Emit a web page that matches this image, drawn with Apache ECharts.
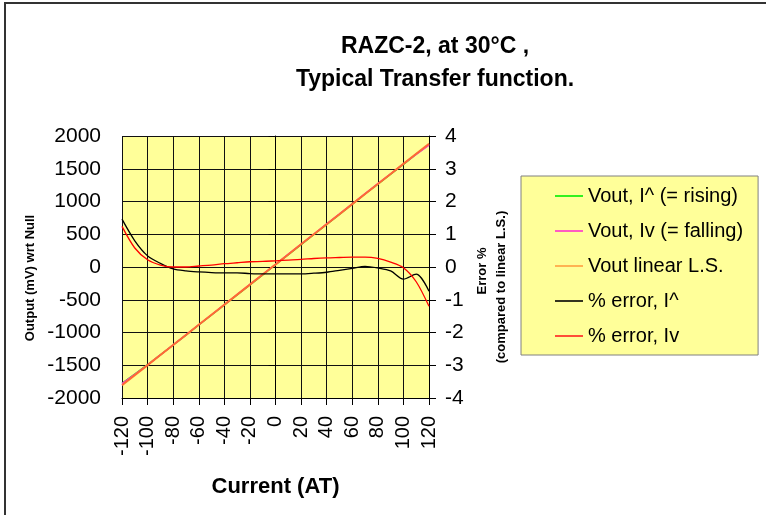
<!DOCTYPE html>
<html>
<head>
<meta charset="utf-8">
<script src="https://cdn.jsdelivr.net/npm/echarts@6/dist/echarts.min.js"></script>
<style>html,body{margin:0;padding:0;background:#fff}#c{width:766px;height:515px}</style>
</head>
<body>
<div id="c"></div>
<script>
const current = [-120,-110,-100,-90,-80,-70,-60,-50,-40,-30,-20,-10,0,10,20,30,40,50,60,70,80,90,100,110,120];
const voutRising = [-1778,-1636,-1492,-1342,-1191,-1039,-886,-733,-579,-425,-273,-119,34,188,342,496,650,804,959,1114,1266,1419,1567,1724,1867];
const voutFalling = [-1782,-1640,-1494,-1343,-1190,-1037,-882,-729,-574,-420,-266,-112,41,196,350,504,658,811,966,1120,1272,1424,1574,1720,1859];
const voutLinear = [-1805,-1651,-1498,-1344,-1190,-1037,-883,-730,-576,-422,-269,-115,38,192,346,499,653,806,960,1114,1267,1421,1574,1728,1881];
const errRising = [1.46,0.80,0.34,0.11,-0.06,-0.12,-0.15,-0.17,-0.18,-0.18,-0.20,-0.21,-0.21,-0.21,-0.21,-0.19,-0.16,-0.10,-0.04,0.02,-0.03,-0.12,-0.37,-0.22,-0.74];
const errFalling = [1.24,0.58,0.22,0.06,0.00,0.00,0.03,0.06,0.10,0.13,0.16,0.17,0.19,0.21,0.23,0.26,0.28,0.29,0.30,0.30,0.26,0.15,-0.02,-0.45,-1.20];
const seriesNames = ['Vout, I^ (= rising)','Vout, Iv (= falling)','Vout linear L.S.','% error, I^','% error, Iv'];

const F = 'Liberation Sans, Arial, sans-serif';
const pair = (ys) => current.map((x, i) => [x, ys[i]]);
const chart = echarts.init(document.getElementById('c'), null, {renderer: 'canvas'});
const legendColors = ['#00ee00', '#ff33cc', '#ffa040', '#000000', '#ff2020'];
const lineIcon = 'path://M0,0 L28,0 L28,1.6 L0,1.6 Z';
chart.setOption({
  backgroundColor: '#ffffff',
  animation: false,
  title: [
    {text: 'RAZC-2, at 30°C ,\nTypical Transfer function.', left: 430, top: 25, textAlign: 'center',
     textStyle: {fontFamily: F, fontSize: 23, fontWeight: 'bold', color: '#000', lineHeight: 33}}
  ],
  grid: {left: 122, right: 337, top: 136, bottom: 117, show: true, backgroundColor: '#ffff99', borderWidth: 0},
  legend: {
    orient: 'vertical', left: 521, top: 176, width: 240,
    backgroundColor: '#ffff99', borderColor: '#808080', borderWidth: 1,
    padding: [10, 15, 9, 34], itemGap: 15, itemWidth: 28, itemHeight: 14,
    symbolKeepAspect: true,
    textStyle: {fontFamily: F, fontSize: 20, color: '#000'},
    data: seriesNames.map((n, i) => ({name: n, icon: lineIcon, itemStyle: {color: legendColors[i], borderWidth: 0}})),
    selectedMode: false
  },
  xAxis: {
    type: 'value', min: -120, max: 120, interval: 20,
    axisLine: {onZero: false, lineStyle: {color: '#000', width: 1}},
    axisTick: {show: true, inside: false, length: 7, lineStyle: {color: '#000'}},
    axisLabel: {rotate: 90, margin: 18, fontFamily: F, fontSize: 20, color: '#000', formatter: (v) => String(v)},
    splitLine: {show: true, lineStyle: {color: '#111', width: 1}},
    name: 'Current (AT)', nameLocation: 'middle', nameGap: 78,
    nameTextStyle: {fontFamily: F, fontSize: 22, fontWeight: 'bold', color: '#000'}
  },
  yAxis: [
    {type: 'value', min: -2000, max: 2000, interval: 500,
     axisLine: {show: true, lineStyle: {color: '#000', width: 1}},
     axisTick: {show: true, length: 7, lineStyle: {color: '#000'}},
     axisLabel: {margin: 21, fontFamily: F, fontSize: 21, color: '#000', formatter: (v) => String(v)},
     splitLine: {show: true, lineStyle: {color: '#111', width: 1}}},
    {type: 'value', min: -4, max: 4, interval: 1, position: 'right',
     axisLine: {show: true, lineStyle: {color: '#000', width: 1}},
     axisTick: {show: true, length: 7, lineStyle: {color: '#000'}},
     axisLabel: {margin: 16, fontFamily: F, fontSize: 21, color: '#000', formatter: (v) => String(v)},
     splitLine: {show: false}}
  ],
  graphic: [
    {type: 'rect', shape: {x: 5, y: 3, width: 800, height: 600}, style: {fill: 'none', stroke: '#333', lineWidth: 2}, silent: true},
    {type: 'text', x: 30, y: 278, rotation: Math.PI / 2, style: {text: 'Output (mV) wrt Null', fontFamily: F, fontSize: 13, fontWeight: 'bold', fill: '#000', align: 'center', verticalAlign: 'middle'}},
    {type: 'text', x: 482, y: 271, rotation: Math.PI / 2, style: {text: 'Error %', fontFamily: F, fontSize: 13, fontWeight: 'bold', fill: '#000', align: 'center', verticalAlign: 'middle'}},
    {type: 'text', x: 501, y: 287, rotation: Math.PI / 2, style: {text: '(compared to linear L.S.)', fontFamily: F, fontSize: 13, fontWeight: 'bold', fill: '#000', align: 'center', verticalAlign: 'middle'}}
  ],
  series: [
    {name: seriesNames[0], type: 'line', yAxisIndex: 0, data: pair(voutRising), showSymbol: false, symbol: 'none', lineStyle: {color: '#00ee00', width: 1.5}, itemStyle: {color: '#00ee00'}},
    {name: seriesNames[1], type: 'line', yAxisIndex: 0, data: pair(voutFalling), showSymbol: false, symbol: 'none', lineStyle: {color: '#ff33cc', width: 1.5}, itemStyle: {color: '#ff33cc'}},
    {name: seriesNames[2], type: 'line', yAxisIndex: 0, data: pair(voutLinear), showSymbol: false, symbol: 'none', lineStyle: {color: '#ff6a33', width: 2}, itemStyle: {color: '#ffa040'}},
    {name: seriesNames[3], type: 'line', yAxisIndex: 1, data: pair(errRising), smooth: 0.3, showSymbol: false, symbol: 'none', lineStyle: {color: '#000', width: 1.3}, itemStyle: {color: '#000'}},
    {name: seriesNames[4], type: 'line', yAxisIndex: 1, data: pair(errFalling), smooth: 0.3, showSymbol: false, symbol: 'none', lineStyle: {color: '#ff0000', width: 1.3}, itemStyle: {color: '#ff2020'}}
  ]
});
</script>
</body>
</html>
